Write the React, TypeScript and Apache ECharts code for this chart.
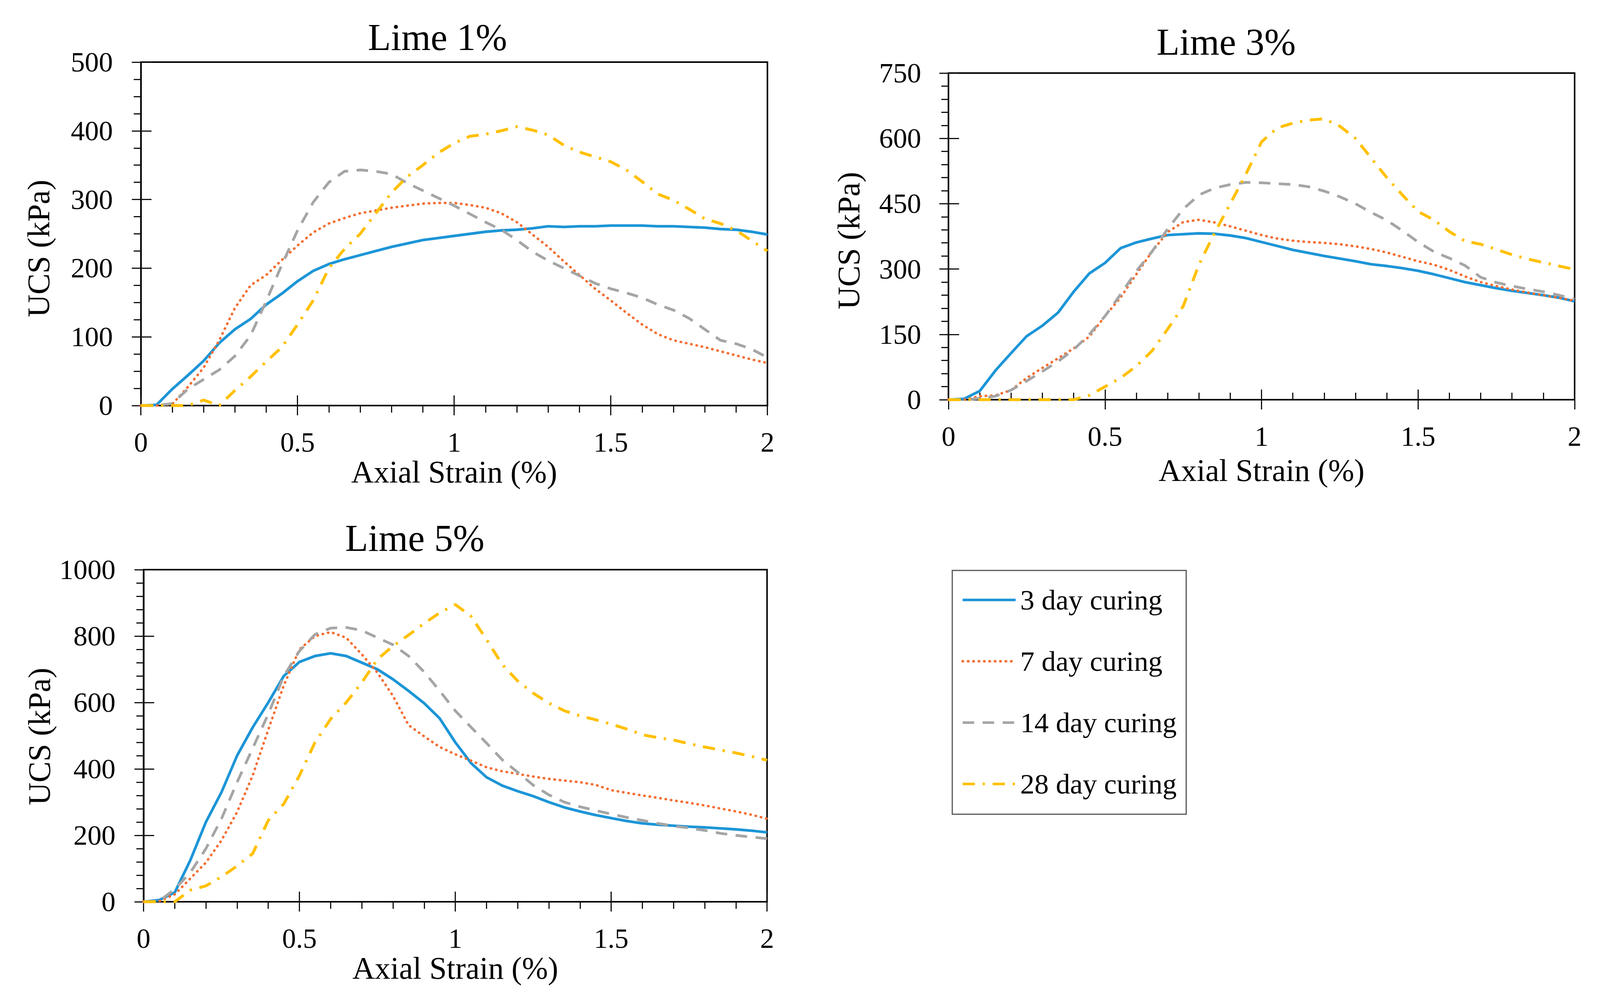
import React, { useEffect, useRef } from 'react';
import * as echarts from 'echarts';

// ---------------- DATA ----------------
const strain = [
  0, 0.05, 0.1, 0.15, 0.2, 0.25, 0.3, 0.35, 0.4, 0.45, 0.5, 0.55, 0.6, 0.65, 0.7, 0.75, 0.8, 0.85, 0.9, 0.95,
  1.0, 1.05, 1.1, 1.15, 1.2, 1.25, 1.3, 1.35, 1.4, 1.45, 1.5, 1.55, 1.6, 1.65, 1.7, 1.75, 1.8, 1.85, 1.9, 1.95, 2.0,
];

const seriesNames = ['3 day curing', '7 day curing', '14 day curing', '28 day curing'];
const panelTitles = ['Lime 1%', 'Lime 3%', 'Lime 5%'];
const xTickLabels = ['0', '0.5', '1', '1.5', '2'];
const yMaxValues = [500, 750, 1000];
const yIntervals = [100, 150, 200];
const yMinorSplits = [4, 5, 5];

// Lime 1%
const lime1_d3 = [0, 1, 24, 44, 65, 91, 111, 126, 147, 163, 181, 196, 206, 213, 219, 225, 231, 236, 241, 244, 247, 250, 253, 255, 256, 258, 261, 260, 261, 261, 262, 262, 262, 261, 261, 260, 259, 257, 256, 253, 249];
const lime1_d7 = [0, 0, 2, 27, 55, 95, 142, 175, 190, 212, 233, 252, 265, 273, 280, 284, 288, 291, 294, 295, 295, 292, 288, 280, 267, 249, 231, 210, 190, 170, 153, 135, 118, 104, 95, 90, 85, 79, 73, 67, 62];
const lime1_d14 = [0, 0, 3, 24, 38, 52, 72, 102, 152, 205, 255, 296, 325, 341, 343, 341, 337, 324, 313, 302, 291, 279, 267, 256, 241, 224, 211, 200, 189, 178, 170, 164, 157, 147, 139, 127, 111, 95, 90, 82, 70];
const lime1_d28 = [0, 0, 0, 0, 8, 0, 22, 42, 64, 85, 118, 153, 200, 228, 250, 280, 310, 333, 350, 368, 382, 392, 395, 400, 406, 401, 394, 379, 369, 362, 355, 343, 326, 308, 299, 286, 272, 265, 255, 240, 225];

// Lime 3%
const lime3_d3 = [0, 2, 20, 67, 107, 146, 170, 200, 248, 290, 314, 348, 361, 370, 378, 380, 382, 381, 377, 371, 362, 353, 344, 337, 330, 324, 318, 311, 307, 302, 296, 288, 279, 270, 263, 256, 250, 245, 240, 234, 226];
const lime3_d7 = [0, 0, 8, 10, 22, 50, 73, 95, 118, 145, 192, 235, 288, 340, 385, 408, 413, 407, 398, 388, 378, 370, 365, 362, 360, 357, 352, 346, 338, 328, 318, 310, 298, 283, 270, 261, 253, 246, 240, 234, 227];
const lime3_d14 = [0, 0, 3, 8, 22, 43, 65, 88, 115, 150, 192, 242, 295, 340, 392, 438, 470, 486, 494, 499, 498, 496, 494, 489, 479, 466, 450, 430, 412, 388, 362, 340, 325, 308, 281, 269, 261, 254, 248, 240, 231];
const lime3_d28 = [0, 0, 0, 0, 0, 0, 0, 0, 0, 10, 30, 50, 77, 112, 162, 215, 310, 383, 450, 518, 592, 624, 635, 642, 645, 628, 600, 555, 510, 470, 432, 413, 386, 364, 357, 345, 333, 323, 315, 307, 299];

// Lime 5%
const lime5_d3 = [0, 5, 28, 125, 240, 330, 440, 525, 600, 680, 722, 740, 748, 740, 720, 700, 670, 635, 598, 552, 480, 418, 375, 350, 333, 318, 300, 284, 272, 261, 252, 243, 236, 232, 229, 226, 224, 221, 218, 214, 209];
const lime5_d7 = [0, 2, 22, 70, 118, 185, 270, 380, 518, 652, 760, 800, 812, 795, 745, 690, 620, 532, 498, 466, 444, 425, 405, 393, 385, 377, 370, 365, 360, 352, 336, 328, 320, 313, 305, 298, 290, 281, 272, 262, 250];
const lime5_d14 = [0, 2, 38, 88, 160, 250, 360, 462, 565, 680, 755, 805, 824, 826, 817, 795, 774, 740, 692, 635, 575, 526, 478, 428, 390, 351, 322, 300, 286, 275, 264, 254, 245, 236, 228, 222, 215, 206, 200, 195, 190];
const lime5_d28 = [0, 0, 0, 35, 48, 75, 108, 145, 245, 295, 380, 480, 550, 600, 660, 730, 770, 803, 838, 870, 895, 860, 790, 715, 665, 628, 598, 575, 560, 548, 535, 520, 503, 494, 487, 476, 466, 457, 448, 438, 426];

const panelValues = [
  [lime1_d3, lime1_d7, lime1_d14, lime1_d28],
  [lime3_d3, lime3_d7, lime3_d14, lime3_d28],
  [lime5_d3, lime5_d7, lime5_d14, lime5_d28],
];

// ---------------- STYLE / LAYOUT (reference pixel units, 4224 x 2562) ----------------
const REF_W = 4224;
const REF_H = 2562;
const FONT = "'Liberation Serif', 'Times New Roman', serif";
const COLORS = ['#1c95d7', '#f46f33', '#a5a5a5', '#ffc000'];
const LINE_TYPES: any[] = ['solid', [1, 13], [30, 22], [32, 20, 6, 20]];
const LINE_WIDTHS = [7, 6.5, 7, 7.5];
const LINE_CAPS = ['butt', 'round', 'butt', 'butt'];

const layouts = [
  { grid: { left: 372, top: 159, width: 1654, height: 879 }, minorInside: false, xLabelMargin: 58, xNameGap: 110, yLabelMargin: 74, titleX: 1155, titleY: 95, yNameX: 102, yNameY: 636 },
  { grid: { left: 2504, top: 187, width: 1653, height: 836 }, minorInside: true, xLabelMargin: 58, xNameGap: 141, yLabelMargin: 72, titleX: 3237, titleY: 107, yNameX: 2240, yNameY: 616 },
  { grid: { left: 379, top: 1458, width: 1646, height: 850 }, minorInside: false, xLabelMargin: 58, xNameGap: 115, yLabelMargin: 74, titleX: 1095, titleY: 1377, yNameX: 104, yNameY: 1885 },
];

function buildOption(sx: number, sy: number) {
  const fs = (sx + sy) / 2;
  const grids: any[] = [];
  const xAxes: any[] = [];
  const yAxes: any[] = [];
  const series: any[] = [];
  const graphics: any[] = [];
  const tickStyle = { color: '#111', width: 3 * fs };

  layouts.forEach((L, g) => {
    grids.push({
      left: L.grid.left * sx, top: L.grid.top * sy, width: L.grid.width * sx, height: L.grid.height * sy,
      show: true, borderColor: '#000', borderWidth: 4 * fs, backgroundColor: 'transparent',
    });

    const xFormatter = (v: number) => {
      const idx = Math.round(v / 0.5);
      return xTickLabels[idx] ?? String(v);
    };

    xAxes.push({
      gridIndex: g, type: 'value', min: 0, max: 2, interval: 0.5, position: 'bottom',
      axisLine: { show: true, onZero: false, lineStyle: { color: '#000', width: 4 * fs } },
      axisTick: { show: true, inside: false, length: 25 * sy, lineStyle: tickStyle },
      minorTick: { show: !L.minorInside, splitNumber: 5, length: 18 * sy, lineStyle: tickStyle },
      splitLine: { show: false },
      axisLabel: { fontFamily: FONT, fontSize: 72 * fs, color: '#000', margin: L.xLabelMargin * sy, formatter: xFormatter },
      name: 'Axial Strain (%)', nameLocation: 'middle', nameGap: L.xNameGap * sy,
      nameTextStyle: { fontFamily: FONT, fontSize: 81 * fs, color: '#000' },
    });
    xAxes.push({
      gridIndex: g, type: 'value', min: 0, max: 2, interval: 0.5, position: 'bottom',
      axisLine: { show: false, onZero: false },
      axisTick: { show: true, inside: true, length: 26 * sy, lineStyle: tickStyle },
      minorTick: { show: L.minorInside, splitNumber: 5, length: 18 * sy, lineStyle: tickStyle },
      splitLine: { show: false },
      axisLabel: { show: false },
    });

    yAxes.push({
      gridIndex: g, type: 'value', min: 0, max: yMaxValues[g], interval: yIntervals[g], position: 'left',
      axisLine: { show: true, onZero: false, lineStyle: { color: '#000', width: 4 * fs } },
      axisTick: { show: true, inside: false, length: 24 * sx, lineStyle: tickStyle },
      minorTick: { show: true, splitNumber: yMinorSplits[g], length: 19 * sx, lineStyle: tickStyle },
      splitLine: { show: false },
      axisLabel: { fontFamily: FONT, fontSize: 73 * fs, color: '#000', margin: L.yLabelMargin * sx, formatter: (v: number) => String(v) },
    });
    yAxes.push({
      gridIndex: g, type: 'value', min: 0, max: yMaxValues[g], interval: yIntervals[g], position: 'left',
      axisLine: { show: false, onZero: false },
      axisTick: { show: true, inside: true, length: 28 * sx, lineStyle: tickStyle },
      minorTick: { show: false },
      splitLine: { show: false },
      axisLabel: { show: false },
    });

    panelValues[g].forEach((vals, s) => {
      const t = LINE_TYPES[s];
      series.push({
        type: 'line',
        name: seriesNames[s],
        xAxisIndex: 2 * g,
        yAxisIndex: 2 * g,
        data: strain.map((x, i) => [x, vals[i]]),
        symbol: 'none',
        showSymbol: false,
        smooth: false,
        color: COLORS[s],
        itemStyle: { color: COLORS[s] },
        lineStyle: {
          color: COLORS[s], width: LINE_WIDTHS[s] * fs,
          type: Array.isArray(t) ? t.map((d: number) => d * fs) : t, cap: LINE_CAPS[s],
        },
        z: 2 + s,
      });
    });

    graphics.push({
      type: 'text', x: L.titleX * sx, y: L.titleY * sy, z: 10,
      style: {
        text: panelTitles[g], fontFamily: FONT, fontSize: 98 * fs, fill: '#000',
        align: 'center', verticalAlign: 'middle', textAlign: 'center', textVerticalAlign: 'middle',
      },
    });
    graphics.push({
      type: 'text', x: L.yNameX * sx, y: L.yNameY * sy, rotation: Math.PI / 2, z: 10,
      style: {
        text: 'UCS (kPa)', fontFamily: FONT, fontSize: 82 * fs, fill: '#000',
        align: 'center', verticalAlign: 'middle', textAlign: 'center', textVerticalAlign: 'middle',
      },
    });
  });

  return {
    animation: false,
    backgroundColor: '#ffffff',
    grid: grids,
    xAxis: xAxes,
    yAxis: yAxes,
    series,
    graphic: graphics,
    legend: {
      orient: 'vertical',
      left: 2514 * sx,
      top: 1460 * sy,
      padding: [39 * sy, 25 * sx, 41 * sy, 24 * sx],
      itemWidth: 140 * sx,
      itemHeight: 20 * sy,
      itemGap: 84 * sy,
      borderColor: '#555',
      borderWidth: 3 * fs,
      selectedMode: false,
      data: seriesNames,
      itemStyle: { opacity: 0, borderWidth: 0 },
      lineStyle: { width: 6.5 * fs },
      textStyle: { fontFamily: FONT, fontSize: 74 * fs, color: '#000', padding: [0, 0, 0, 7 * sx] },
    },
  };
}

export default function App() {
  const ref = useRef<HTMLDivElement>(null);
  useEffect(() => {
    if (!ref.current) return;
    const chart = echarts.init(ref.current, undefined, { renderer: 'svg' });
    const w = chart.getWidth();
    const h = chart.getHeight();
    chart.setOption(buildOption(w / REF_W, h / REF_H) as any);
    return () => chart.dispose();
  }, []);
  return (
    <div
      ref={ref}
      style={{ position: 'fixed', left: 0, top: 0, width: '100vw', height: '100vh', background: '#fff' }}
    />
  );
}
